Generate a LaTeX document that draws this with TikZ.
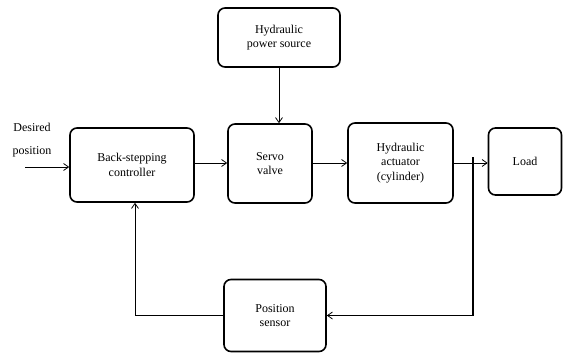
\documentclass[tikz,border=0pt]{standalone}
\usepackage{fontspec}
\setmainfont{Liberation Serif}
\usetikzlibrary{arrows.meta}
\begin{document}
\begin{tikzpicture}[x=1pt,y=-1pt,
  blk/.style={draw,line width=1.6pt,rounded corners=7pt,align=center,font=\fontsize{12}{14.5}\selectfont,inner sep=0pt},
  conn/.style={line width=0.8pt,-{Straight Barb[length=5pt,width=7pt]}},
  wire/.style={line width=0.8pt}]
\useasboundingbox (0,0) rectangle (563,353);
\node[blk,minimum width=124pt,minimum height=74pt] (ctrl) at (132,165) {Back-stepping\\controller};
\node[blk,minimum width=84pt,minimum height=79pt] (servo) at (270,163.5) {Servo\\valve};
\node[blk,minimum width=105pt,minimum height=80pt] (act) at (400.5,163) {Hydraulic\\actuator\\(cylinder)};
\node[blk,minimum width=73pt,minimum height=67pt] (load) at (525,161.5) {Load};
\node[blk,minimum width=122pt,minimum height=59pt] (pow) at (279,37.5) {Hydraulic\\power source};
\node[blk,minimum width=102pt,minimum height=72pt] (sens) at (275,315.5) {Position\\sensor};
\node[align=center,font=\fontsize{12}{23}\selectfont] (des) at (32,140) {Desired\\position};
\coordinate (in) at (25,167);
\coordinate (tap) at (473,163);
\coordinate (tapTop) at (473,157);
\coordinate (fb) at (135,315.5);
\draw[conn] (in) -- (in -| ctrl.west);
\draw[conn] (ctrl.east |- 0,163) -- (servo.west |- 0,163);
\draw[conn] (servo.east |- 0,163) -- (act.west |- 0,163);
\draw[conn] (act.east |- 0,163) -- (load.west |- 0,163);
\draw[conn] (pow.south) -- (servo.north -| pow.south);
\draw[wire,line width=1.2pt] (tapTop) -- (tap |- sens.east);
\draw[conn] (tap |- sens.east) -- (sens.east);
\draw[wire,line width=1.2pt] (sens.west) -- (fb);
\draw[conn] (fb) -- (fb |- ctrl.south);
\end{tikzpicture}
\end{document}
